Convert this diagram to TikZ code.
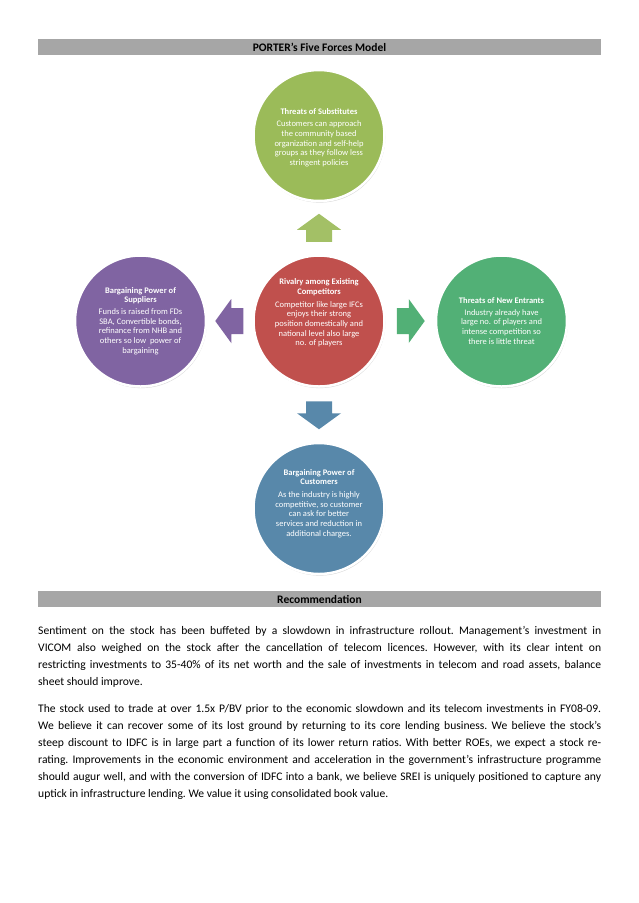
\documentclass[tikz,border=0pt]{standalone}
\usepackage{fontspec}
\setmainfont{Carlito}
\usepackage{tikz}
\usetikzlibrary{positioning,calc,shadows}
\definecolor{bargray}{RGB}{166,166,166}
\definecolor{subgreen}{RGB}{155,187,89}
\definecolor{rivalred}{RGB}{192,80,77}
\definecolor{supplierpurple}{RGB}{128,100,162}
\definecolor{entrantgreen}{RGB}{82,176,118}
\definecolor{custblue}{RGB}{88,136,170}
\tikzset{
  force/.style={circle, draw=white, line width=2.5pt, minimum size=131pt, inner sep=0pt,
                drop shadow={opacity=0.3, shadow xshift=0.8pt, shadow yshift=-1.6pt}},
  forcetext/.style={align=center, text=white, inner sep=0pt, font=\fontsize{8.5}{9.7}\selectfont},
  headbar/.style={fill=bargray, minimum width=563pt, minimum height=16pt, inner sep=0pt,
                  font=\fontsize{11.5}{14}\selectfont\bfseries},
  bodytext/.style={text width=563pt, inner sep=0pt,
                   font=\fontsize{11.6}{17}\selectfont},
  fatarrow/.pic={\path[pic actions] (-13,13.5) -- (-13,1.5) -- (-22,1.5) -- (0,-14.5)
                 -- (22,1.5) -- (13,1.5) -- (13,13.5) -- cycle;},
}
\begin{document}
\begin{tikzpicture}[x=1pt, y=-1pt]
\path[use as bounding box, fill=white] (0,0) rectangle (638,903);

% five forces
\node[force, fill=rivalred] (rivalry) at (319,321) {};
\node[force, fill=subgreen, above=52pt of rivalry] (subst) {};
\node[force, fill=supplierpurple, left=45pt of rivalry] (supplier) {};
\node[force, fill=entrantgreen, right=49pt of rivalry] (entrant) {};
\node[force, fill=custblue, below=54pt of rivalry] (customer) {};

\node[forcetext] (rivalrytext) at ([yshift=8pt]rivalry.center)
  {\textbf{Rivalry among Existing}\\\textbf{Competitors}\\[3pt]Competitor like large IFCs\\enjoys their strong\\position domestically and\\national level also large\\no. of players};
\node[forcetext] (substtext) at ([yshift=-2pt]subst.center)
  {\textbf{Threats of Substitutes}\\[3pt]Customers can approach\\the community based\\organization and self-help\\groups as they follow less\\stringent policies};
\node[forcetext] (suppliertext) at (supplier.center)
  {\textbf{Bargaining Power of}\\\textbf{Suppliers}\\[2pt]Funds is raised from FDs\\SBA, Convertible bonds,\\refinance from NHB and\\others so low\ \ power of\\bargaining};
\node[forcetext] (entranttext) at (entrant.center)
  {\textbf{Threats of New Entrants}\\[2pt]Industry already have\\large no. of players and\\intense competition so\\there is little threat};
\node[forcetext] (customertext) at ([yshift=5pt]customer.center)
  {\textbf{Bargaining Power of}\\\textbf{Customers}\\[3pt]As the industry is highly\\competitive, so customer\\can ask for better\\services and reduction in\\additional charges.};

\pic[fill=subgreen!92!white] at ($(rivalry.north)!0.5!(subst.south)$) {fatarrow};
\pic[fill=supplierpurple, rotate=90] at ($(rivalry.west)!0.5!(supplier.east)$) {fatarrow};
\pic[fill=entrantgreen, rotate=-90] at ($(rivalry.east)!0.5!(entrant.west)$) {fatarrow};
\pic[fill=custblue, rotate=180] at ($(rivalry.south)!0.5!(customer.north)$) {fatarrow};

% headings and text
\node[headbar] (porter) at (319.5,47) {PORTER’s Five Forces Model};
\node[headbar] (recom) at (319.5,599) {Recommendation};
\node[bodytext, anchor=north west] (para) at (38,626) {%
\rightskip=0pt \leftskip=0pt \spaceskip=0pt \parindent=0pt \frenchspacing \hyphenpenalty=10000
Sentiment on the stock has been buffeted by a slowdown in infrastructure rollout. Management’s investment in\linebreak
VICOM also weighed on the stock after the cancellation of telecom licences. However, with its clear intent on\linebreak
restricting investments to 35-40\% of its net worth and the sale of investments in telecom and road assets, balance\linebreak
sheet should improve.\par\vspace{10pt}
The stock used to trade at over 1.5x P/BV prior to the economic slowdown and its telecom investments in FY08-09.\linebreak
We believe it can recover some of its lost ground by returning to its core lending business. We believe the stock’s\linebreak
steep discount to IDFC is in large part a function of its lower return ratios. With better ROEs, we expect a stock re-\linebreak
rating. Improvements in the economic environment and acceleration in the government’s infrastructure programme\linebreak
should augur well, and with the conversion of IDFC into a bank, we believe SREI is uniquely positioned to capture any\linebreak
uptick in infrastructure lending. We value it using consolidated book value.\par};
\end{tikzpicture}
\end{document}
